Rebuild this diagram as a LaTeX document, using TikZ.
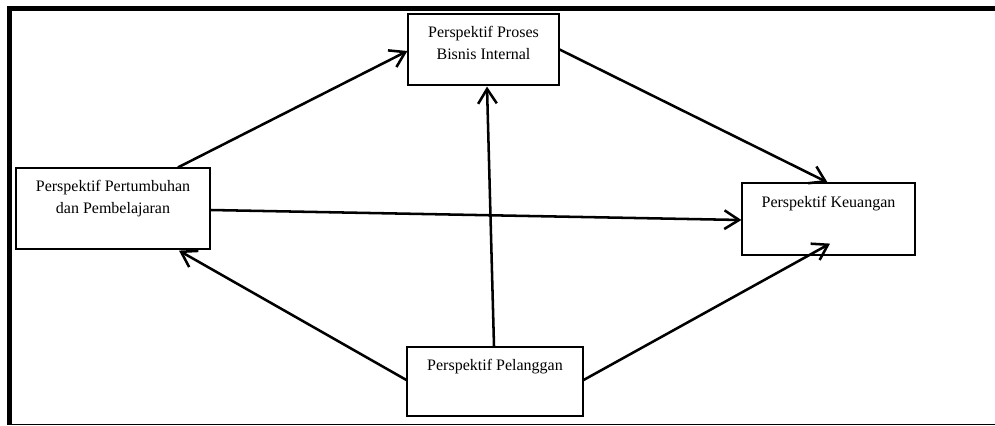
\documentclass[tikz,border=0pt]{standalone}
\usepackage{fontspec}
\setmainfont{Liberation Serif}
\usetikzlibrary{arrows.meta}
\begin{document}
\begin{tikzpicture}[x=0.75pt,y=-0.75pt,
  box/.style={draw=black,line width=0.9pt,inner sep=0pt,fill=white},
  txt/.style={inner sep=0pt,align=center,font=\fontsize{12}{16.5}\selectfont,anchor=north},
  conn/.style={line width=1.9pt,-{Straight Barb[length=11pt,width=14pt,line width=1.9pt]}}]
\useasboundingbox (0,0) rectangle (995,425);
% frame
\fill[black] (7,6) rectangle (995,11);
\fill[black] (7,6) rectangle (12,424);
\draw[line width=0.75pt] (7,424) -- (995,424);
% boxes
\node[box,minimum width=113.25pt,minimum height=53.25pt] (proses) at (483.5,49.5) {};
\node[box,minimum width=145.5pt,minimum height=60.75pt] (tumbuh) at (113,208.5) {};
\node[box,minimum width=129.75pt,minimum height=54pt] (keu) at (828.5,219) {};
\node[box,minimum width=132pt,minimum height=51.75pt] (pel) at (495,381.5) {};
% texts
\node[txt] (prosesT) at ([yshift=-9.75pt]proses.north) {Perspektif Proses\\Bisnis Internal};
\node[txt] (tumbuhT) at ([yshift=-9.75pt]tumbuh.north) {Perspektif Pertumbuhan\\dan Pembelajaran};
\node[txt] (keuT) at ([yshift=-10.5pt]keu.north) {Perspektif Keuangan};
\node[txt] (pelT) at ([yshift=-9.75pt]pel.north) {Perspektif Pelanggan};
% connectors
\draw[conn] ([shift={(65,0)}]tumbuh.north) -- ([shift={(0,1.5)}]proses.west);
\draw[conn] (proses.east) -- ([shift={(-1,0)}]keu.north);
\draw[conn] ([shift={(0,1.5)}]tumbuh.east) -- ([shift={(0,1)}]keu.west);
\draw[conn] ([shift={(-1,0)}]pel.north) -- ([shift={(3.5,1)}]proses.south);
\draw[conn] ([shift={(0,-1.5)}]pel.west) -- ([shift={(66,1)}]tumbuh.south);
\draw[conn] ([shift={(0,-1.5)}]pel.east) -- ([shift={(1.5,-12)}]keu.south);
\end{tikzpicture}
\end{document}
